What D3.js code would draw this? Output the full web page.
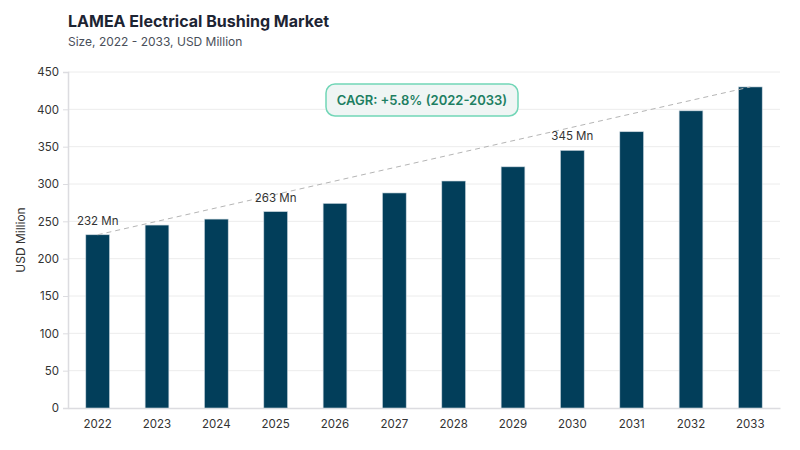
<!DOCTYPE html>
<html>
<head>
<meta charset="utf-8">
<script src="https://cdn.jsdelivr.net/npm/d3@7"></script>
<style>
  body { margin: 0; background: #fff; font-family: Inter, "Noto Sans", sans-serif; }
</style>
</head>
<body>
<svg id="chart" width="800" height="450"></svg>
<script>
// chart data
const years = ["2022", "2023", "2024", "2025", "2026", "2027", "2028", "2029", "2030", "2031", "2032", "2033"];
const values = [232, 245, 253, 263, 274, 288, 304, 323, 345, 370, 398, 430];
const labelledYears = ["2022", "2025", "2030"];
const yTicks = [0, 50, 100, 150, 200, 250, 300, 350, 400, 450];
const cagrText = "CAGR: +5.8% (2022-2033)";

const svg = d3.select("#chart");
const margin = { top: 72, right: 20, bottom: 42, left: 68 };
const width = 800 - margin.left - margin.right;
const height = 450 - margin.top - margin.bottom;

const x = d3.scaleBand().domain(years).range([0, width]).paddingInner(0.6).paddingOuter(0.3);
const y = d3.scaleLinear().domain([0, 450]).range([height, 0]);

// title
svg.append("text").attr("x", 68).attr("y", 27)
    .attr("font-size", 16).attr("font-weight", 700).attr("fill", "#1d2433")
    .text("LAMEA Electrical Bushing Market");
svg.append("text").attr("x", 68).attr("y", 46)
    .attr("font-size", 12).attr("fill", "#4a4f5a")
    .text("Size, 2022 - 2033, USD Million");

const g = svg.append("g").attr("transform", `translate(${margin.left},${margin.top})`);

// gridlines
g.append("g").selectAll("line").data(yTicks.slice(1)).join("line")
    .attr("x1", 0).attr("x2", width)
    .attr("y1", d => y(d)).attr("y2", d => y(d))
    .attr("stroke", "#ececec").attr("stroke-width", 1);

// y axis
const yAxis = g.append("g").call(d3.axisLeft(y).tickValues(yTicks).tickSize(5).tickPadding(4));
yAxis.select(".domain").attr("stroke", "#dcdce0").attr("stroke-width", 1.5);
yAxis.selectAll(".tick line").attr("stroke", "#dcdce0");
yAxis.selectAll("text").attr("font-size", 11.5).attr("fill", "#333").attr("font-family", "Inter, sans-serif");

// x axis
const xAxis = g.append("g").attr("transform", `translate(0,${height})`)
    .call(d3.axisBottom(x).tickSize(0).tickPadding(12));
xAxis.select(".domain").attr("stroke", "#dcdce0").attr("stroke-width", 1.5);
xAxis.selectAll("text").attr("font-size", 11.5).attr("fill", "#333").attr("font-family", "Inter, sans-serif");

// y label
svg.append("text")
    .attr("transform", `translate(25,${margin.top + height / 2}) rotate(-90)`)
    .attr("text-anchor", "middle").attr("font-size", 12).attr("fill", "#333")
    .text("USD Million");

// bars
g.selectAll("rect.bar").data(years).join("rect")
    .attr("class", "bar")
    .attr("x", d => x(d))
    .attr("width", x.bandwidth())
    .attr("y", (d, i) => y(values[i]))
    .attr("height", (d, i) => height - y(values[i]))
    .attr("fill", "#023e5a")
    .attr("stroke", "#c9d6de").attr("stroke-width", 0.6);

// CAGR trend line, first bar to last bar
const first = 0, last = years.length - 1;
g.append("line")
    .attr("x1", x(years[first]) + x.bandwidth() / 2).attr("y1", y(values[first]))
    .attr("x2", x(years[last]) + x.bandwidth() / 2).attr("y2", y(values[last]))
    .attr("stroke", "#b5b5b5").attr("stroke-width", 1).attr("stroke-dasharray", "5,4");

// value labels
g.selectAll("text.val").data(labelledYears).join("text")
    .attr("class", "val")
    .attr("x", d => x(d) + x.bandwidth() / 2)
    .attr("y", d => y(values[years.indexOf(d)]) - 10)
    .attr("text-anchor", "middle").attr("font-size", 11.5).attr("fill", "#333")
    .text(d => values[years.indexOf(d)] + " Mn");

// CAGR box
const box = svg.append("g").attr("transform", "translate(326,84)");
box.append("rect").attr("width", 192).attr("height", 32).attr("rx", 9)
    .attr("fill", "#eff5f4").attr("stroke", "#72d6b7").attr("stroke-width", 1.5);
box.append("text").attr("x", 96).attr("y", 21).attr("text-anchor", "middle")
    .attr("font-size", 13).attr("font-weight", 600).attr("fill", "#1d7f62")
    .text(cagrText);
</script>
</body>
</html>
